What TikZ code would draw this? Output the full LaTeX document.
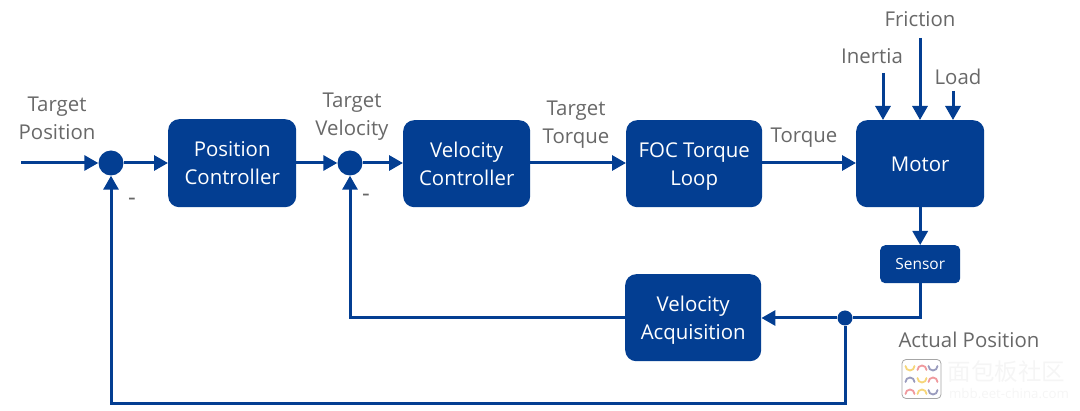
\documentclass[tikz,border=0pt]{standalone}
\usepackage{fontspec}
\setmainfont{Open Sans}
\newfontfamily\cjkface{Noto Sans CJK SC}
\usetikzlibrary{arrows.meta}
\definecolor{ctrlblue}{HTML}{033E92}
\definecolor{labelgrey}{HTML}{686868}
\tikzset{
  x=1pt,y=-1pt,
  block/.style={fill=ctrlblue,rounded corners=11pt,text=white,align=center,inner sep=0pt,
    font=\fontsize{20.4}{28}\selectfont},
  sumdot/.style={circle,fill=ctrlblue,inner sep=0pt,minimum size=25pt},
  junction/.style={circle,fill=ctrlblue,inner sep=0pt,minimum size=15pt},
  signal/.style={draw=ctrlblue,line width=3pt,-{Triangle[length=14pt,width=15pt]}},
  wire/.style={draw=ctrlblue,line width=3pt},
  caption/.style={text=labelgrey,align=center,inner sep=0pt,font=\fontsize{20.4}{28}\selectfont},
  minusmark/.style={text=labelgrey,inner sep=0pt,font=\fontsize{24}{26}\selectfont},
}
% Invisible rules that keep block text at one height, with or without descenders
\newcommand{\firstline}{\vrule height 23pt depth 0pt width 0pt\relax}
\newcommand{\lastline}{\vrule height 0pt depth 8pt width 0pt\relax}
% Places a block from its corners in pixel-like coordinates
\newcommand{\blockat}[6]{\node[block,minimum width=#4 pt-#2 pt,minimum height=#5 pt-#3 pt,anchor=north west] (#1) at (#2,#3) {#6};}
\begin{document}
\begin{tikzpicture}
\useasboundingbox (0,0) rectangle (1080,411);

% Blocks
\blockat{posctl}{168}{119}{296}{207}{\firstline Position\\\lastline Controller}
\blockat{velctl}{403}{120}{530}{207}{\firstline Velocity\\\lastline Controller}
\blockat{foc}{626}{120}{762}{207}{\firstline FOC Torque\\\lastline Loop}
\blockat{motor}{856}{120}{984}{207}{\firstline\lastline Motor}
\node[block,rounded corners=5pt,minimum width=80pt,minimum height=38pt,anchor=north west,
  font=\fontsize{15.5}{18}\selectfont] (sensor) at (880,245) {Sensor};
\blockat{velacq}{625}{274}{761}{361}{\firstline Velocity\\\lastline Acquisition}

% Summing points and the feedback branch point
\node[sumdot] (sumpos) at (111,163) {};
\node[sumdot] (sumvel) at (350,163) {};
\node[junction] (branch) at (845,318) {};

% Free ends of the incoming signals
\coordinate (inpos) at (21,163);
\coordinate (ininertia) at (883,73);
\coordinate (infriction) at (920,38);
\coordinate (inload) at (953,91);

% Forward path
\draw[signal] (inpos) -- (sumpos.west);
\draw[signal] (sumpos.east) -- (posctl.west |- sumpos);
\draw[signal] (posctl.east |- sumvel) -- (sumvel.west);
\draw[signal] (sumvel.east) -- (velctl.west |- sumvel);
\draw[signal] (velctl.east |- sumvel) -- (foc.west |- sumvel);
\draw[signal] (foc.east |- sumvel) -- (motor.west |- sumvel);
\draw[signal] (motor.south -| sensor.north) -- (sensor.north);

% Disturbances acting on the motor
\draw[signal] (ininertia) -- (ininertia |- motor.north);
\draw[signal] (infriction) -- (infriction |- motor.north);
\draw[signal] (inload) -- (inload |- motor.north);

% Feedback paths
\draw[wire] (sensor.south) |- (branch.east);
\draw[signal] (branch.west) -- (velacq.east |- branch);
\draw[signal] (velacq.west |- branch) -| (sumvel.south);
\draw[signal] (branch.south) |- (111,404) -- (sumpos.south);

% Signal names
\node[caption] (ltpos) at (57,118) {Target\\Position};
\node[caption] (ltvel) at (352,116.5) {Target\\Velocity};
\node[caption] (lttrq) at (576,124.5) {Target\\Torque};
\node[caption] (ltorque) at (804,138) {Torque};
\node[caption] (linertia) at (872,56) {Inertia};
\node[caption] (lfriction) at (920,19) {Friction};
\node[caption] (lload) at (958,77) {Load};
\node[caption] (lactual) at (969,340) {Actual Position};
\node[minusmark] (mpos) at (132,202) {-};
\node[minusmark] (mvel) at (366,198) {-};

% Site mark in the lower right corner
\node[draw=black!35,line width=0.8pt,fill=white,rounded corners=4pt,minimum size=39pt,inner sep=0pt] (marklogo) at (921.5,379) {};
\definecolor{markyellow}{HTML}{F6D67A}
\definecolor{markred}{HTML}{F09A9E}
\definecolor{markslate}{HTML}{9A9CBE}
\foreach \cx/\cy/\st/\tone in {910/366/0/markyellow,922/370/180/markred,933/366/0/markslate,
                               910/382/180/markslate,922/378/0/markyellow,933/382/180/markred,
                               910/394/180/markred,922/394/180/markyellow,933/390/0/markslate}
  \draw[\tone,line width=1.8pt,line cap=round] (\cx,\cy) ++(\st:4.5) arc[start angle=\st,delta angle=180,radius=4.5];
\node[text=black!4,inner sep=0pt,font=\cjkface\fontsize{23.5}{26}\selectfont] (markname) at (1006.5,372) {面包板社区};
\node[text=black!4,inner sep=0pt,font=\fontsize{13.3}{15}\selectfont] (markurl) at (1009,394) {mbb.eet-china.com};
\end{tikzpicture}
\end{document}
